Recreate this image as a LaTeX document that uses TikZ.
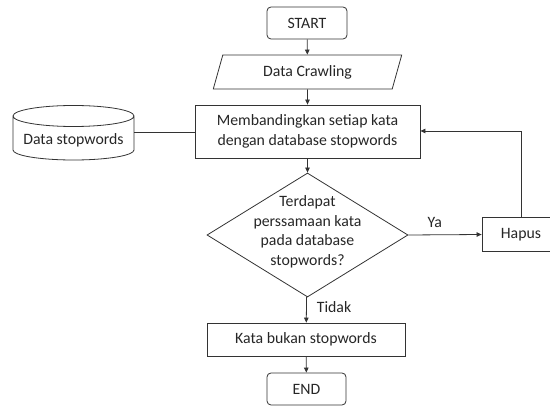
\documentclass[tikz,border=0pt]{standalone}
\usepackage{fontspec}
\setmainfont{Carlito}
\usetikzlibrary{shapes.geometric,arrows.meta}

\begin{document}
\begin{tikzpicture}[x=1pt,y=-1pt,
  every node/.style={font=\fontsize{15.8}{19.5}\selectfont, text=black!85},
  line/.style={draw=black!80, line width=0.8pt},
  flow/.style={line, -{Triangle[length=5pt,width=4.5pt]}},
  terminal/.style={line, rounded corners=4pt, minimum width=80pt, minimum height=32pt, inner sep=0pt},
  procbox/.style={line, rectangle, inner sep=0pt},
  iobox/.style={line, trapezium, trapezium left angle=70, trapezium right angle=110,
                trapezium stretches=true, minimum width=189pt, minimum height=34pt, inner sep=0pt},
  decision/.style={line, diamond, minimum width=201pt, minimum height=124pt, inner sep=0pt},
  lbl/.style={inner sep=0pt}
]
\useasboundingbox (0,0) rectangle (550,406);

% main column
\node[terminal] (start) at (307,23) {START};
\node[iobox] (crawl) at (307.5,72) {Data Crawling};
\node[procbox, minimum width=225pt, minimum height=53pt, align=center] (compare) at (307.5,131.5)
  {Membandingkan setiap kata\\dengan database stopwords};
\node[decision] (check) at (307.5,235) {};
\node[lbl, align=center] (checktext) at (307.5,232)
  {Terdapat\\perssamaan kata\\pada database\\stopwords?};
\node[procbox, minimum width=198pt, minimum height=33pt] (notstop) at (306,339.5) {Kata bukan stopwords};
\node[terminal, minimum width=79pt] (end) at (306.5,389) {END};

% side nodes
\node[procbox, minimum width=78pt, minimum height=34pt] (hapus) at (521,234.5) {Hapus};
\coordinate (loop) at (521,131);

% database cylinder: body, bottom rim and the full top ellipse
\node[minimum width=121pt, minimum height=55pt, inner sep=0pt] (db) at (73.5,132.5) {};
\node[lbl] (dbtext) at (73.5,140) {Data stopwords};
\draw[line] (13,116) -- (13,150) arc[start angle=180, end angle=360, x radius=60.5pt, y radius=10pt]
  -- (134,116) arc[start angle=0, end angle=180, x radius=60.5pt, y radius=10.5pt]
  arc[start angle=180, end angle=360, x radius=60.5pt, y radius=10.5pt];

% connectors
\draw[flow] (start) -- (crawl);
\draw[flow] (crawl) -- (compare);
\draw[flow] (compare) -- (check);
\draw[flow] (check) -- node[lbl, pos=0.4, right=10pt] (tidak) {Tidak} (notstop);
\draw[flow] (notstop) -- (end);
\draw[flow] (check.east) -- node[lbl, above=7pt, pos=0.36] (ya) {Ya} (hapus.west);
\draw[flow] (hapus.north) -- (loop) -- (compare.east |- loop);
\draw[line] (db.east) -- (compare.west |- db.east);
\end{tikzpicture}
\end{document}
